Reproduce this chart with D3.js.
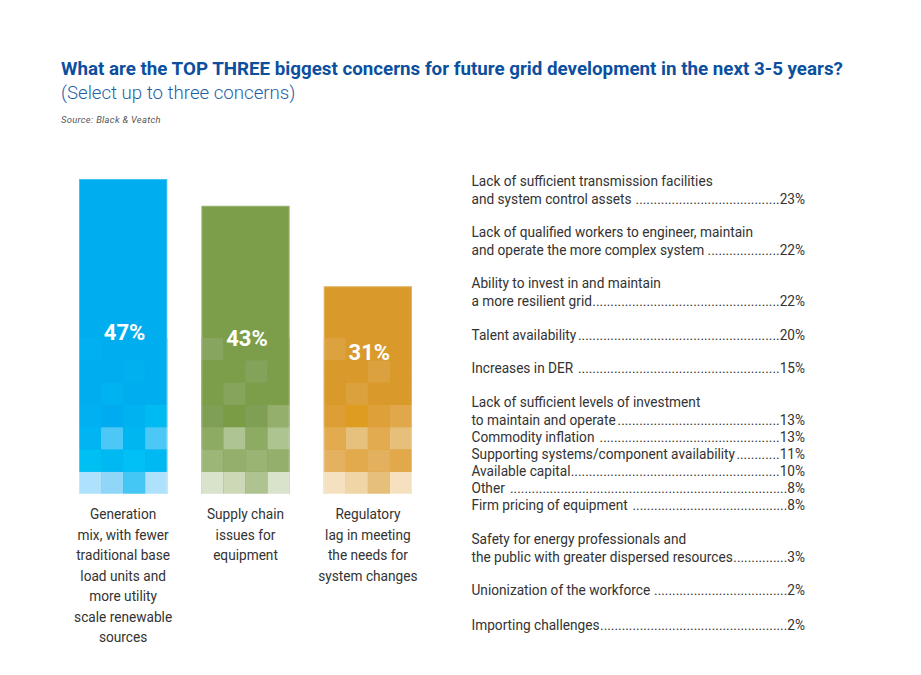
<!DOCTYPE html>
<html>
<head>
<meta charset="utf-8">
<script src="https://d3js.org/d3.v7.min.js"></script>
<style>
  body { margin: 0; background: #fff; }
  svg { display: block; font-family: Roboto, sans-serif; }
</style>
</head>
<body>
<div id="chart"></div>
<script>
// top three bars
const barNames = ['Generation', 'Supply chain', 'Regulatory'];
const barValues = [47, 43, 31];
const barLabels = [
  ['Generation', 'mix, with fewer', 'traditional base', 'load units and', 'more utility', 'scale renewable', 'sources'],
  ['Supply chain', 'issues for', 'equipment'],
  ['Regulatory', 'lag in meeting', 'the needs for', 'system changes']
];
const barColors = ['#00aeef', '#7c9e4a', '#d99a2b'];

// the faded tiles at the foot of each bar, bottom row first
const blueTiles = [
  ['#aee1fb', '#8fd6f8', '#45c7f6', '#aee1fb'],
  ['#00c0f3', '#00b8f2', '#00c0f5', '#00b9f3'],
  ['#00b5f1', '#4cc7f6', '#00b6f1', '#4cc8f6'],
  ['#00b0f0', '#00abef', '#00b2f0', '#00baf2'],
  ['#00adee', '#00b2f0', '#00aeef', '#00aeef'],
  ['#00aeef', '#00aeef', '#00b0ef', '#00aeef'],
  ['#00b0f0', '#00aeef', '#00aeef', '#00aeef']
];
const greenTiles = [
  ['#d9e2ca', '#ccd8b6', '#aec38f', '#d9e2ca'],
  ['#9cb677', '#93af6b', '#9ab474', '#93af6b'],
  ['#8dab62', '#aec493', '#8dab62', '#adc390'],
  ['#7f9f54', '#799c45', '#7f9f54', '#93af6b'],
  ['#7c9e4a', '#86a55b', '#7c9e4a', '#7c9e4a'],
  ['#7c9e4a', '#7c9e4a', '#83a25a', '#7c9e4a'],
  ['#87a55e', '#7c9e4a', '#7c9e4a', '#7c9e4a']
];
const orangeTiles = [
  ['#f5e1c0', '#f0d5a7', '#e6bf7a', '#f5e1c0'],
  ['#e4b160', '#e3aa4d', '#e3b05e', '#e2a94b'],
  ['#e3ab50', '#e6c07d', '#e3ab50', '#e6bf7a'],
  ['#dc9e35', '#de9c20', '#dea13a', '#e0a84a'],
  ['#d99a2b', '#dba13d', '#d99a2b', '#d99a2b'],
  ['#d99a2b', '#d99a2b', '#dba13f', '#d99a2b'],
  ['#dba23f', '#d99a2b', '#d99a2b', '#d99a2b']
];
const barTiles = [blueTiles, greenTiles, orangeTiles];

// the dotted list on the right
const listLabels = [
  ['Lack of sufficient transmission facilities', 'and system control assets '],
  ['Lack of qualified workers to engineer, maintain', 'and operate the more complex system '],
  ['Ability to invest in and maintain', 'a more resilient grid'],
  ['Talent availability'],
  ['Increases in DER '],
  ['Lack of sufficient levels of investment', 'to maintain and operate '],
  ['Commodity inflation '],
  ['Supporting systems/component availability'],
  ['Available capital'],
  ['Other '],
  ['Firm pricing of equipment '],
  ['Safety for energy professionals and', 'the public with greater dispersed resources'],
  ['Unionization of the workforce '],
  ['Importing challenges']
];
const listValues = [23, 22, 22, 20, 15, 13, 13, 11, 10, 8, 8, 3, 2, 2];
// last-line baseline of each list entry
const listBaselines = [204, 255, 306, 340, 373, 425, 442, 459, 476, 493, 510, 562, 595, 630];

const width = 921, height = 675;
const svg = d3.select('#chart').append('svg')
  .attr('width', width).attr('height', height);

// heading
svg.append('text').attr('x', 61).attr('y', 75)
  .attr('font-size', 18.75).attr('font-weight', 700).attr('fill', '#0b4f9e')
  .text('What are the TOP THREE biggest concerns for future grid development in the next 3-5 years?');
svg.append('text').attr('x', 61).attr('y', 99)
  .attr('font-size', 18.65).attr('font-weight', 300).attr('fill', '#1f5fa8')
  .text('(Select up to three concerns)');
svg.append('text').attr('x', 61).attr('y', 123)
  .attr('font-size', 9.4).attr('font-style', 'italic').attr('fill', '#555')
  .attr('letter-spacing', 0.3)
  .text('Source: Black & Veatch');

// bars
const x = d3.scaleBand().domain(barNames).range([79, 412]).paddingInner(0.279);
const y = d3.scaleLinear().domain([0, 47]).range([494, 179]);
const rows = d3.scaleBand().domain(d3.range(7)).range([494, 338]);
const cols = d3.scaleBand().domain(d3.range(4)).range([0, x.bandwidth()]);

const bars = svg.selectAll('g.bar').data(barNames).join('g')
  .attr('class', 'bar')
  .attr('transform', d => `translate(${x(d)},0)`);

bars.append('rect')
  .attr('width', x.bandwidth())
  .attr('y', (d, i) => y(barValues[i]))
  .attr('height', (d, i) => y(0) - y(barValues[i]))
  .attr('fill', (d, i) => barColors[i]);

bars.each(function (d, i) {
  const g = d3.select(this);
  barTiles[i].forEach((row, r) => {
    g.selectAll(null).data(row).join('rect')
      .attr('x', (c, k) => cols(k))
      .attr('y', rows(r))
      .attr('width', cols.bandwidth())
      .attr('height', rows.bandwidth())
      .attr('fill', c => c);
  });
});

// soft pale rim around each bar
bars.append('rect')
  .attr('x', 0.5)
  .attr('width', x.bandwidth() - 1)
  .attr('y', (d, i) => y(barValues[i]) + 0.5)
  .attr('height', (d, i) => y(0) - y(barValues[i]) - 1)
  .attr('fill', 'none')
  .attr('stroke', '#fff').attr('stroke-opacity', 0.25);

// value inside the bar, centred a little above the tiles
const valueY = [339.5, 346, 359.5];
bars.append('text')
  .attr('x', x.bandwidth() / 2 + 1.5)
  .attr('y', (d, i) => valueY[i])
  .attr('text-anchor', 'middle')
  .attr('font-size', 22).attr('font-weight', 700).attr('fill', '#fff')
  .text((d, i) => barValues[i] + '%');

// wrapped labels under the bars; no condensed Roboto here, so squeeze it
const condensed = 0.9;
bars.each(function (d, i) {
  const g = d3.select(this);
  g.selectAll(null).data(barLabels[i]).join('text')
    .attr('transform', (t, k) =>
      `translate(${x.bandwidth() / 2},${519 + k * 20.5}) scale(${condensed},1)`)
    .attr('text-anchor', 'middle')
    .attr('font-size', 15.2).attr('fill', '#333')
    .text(t => t);
});

// list: label, then dots running up to the percentage
const listRight = 805;
const listLeft = 471.5;
const lineGap = 17.6;
const listSize = 15.2;
const list = svg.append('g');

listLabels.forEach((lines, i) => {
  const base = listBaselines[i];
  lines.forEach((line, k) => {
    const yPos = base - (lines.length - 1 - k) * lineGap;
    const t = list.append('text')
      .attr('transform', `translate(${listLeft},${yPos}) scale(${condensed},1)`)
      .attr('font-size', listSize).attr('fill', '#333')
      .style('white-space', 'pre')
      .text(line);
    if (k === lines.length - 1) {
      const pct = list.append('text')
        .attr('transform', `translate(${listRight},${yPos}) scale(${condensed},1)`)
        .attr('text-anchor', 'end')
        .attr('font-size', listSize).attr('fill', '#333')
        .text(listValues[i] + '%');
      const pctW = pct.node().getComputedTextLength() * condensed;
      const leader = list.append('text')
        .attr('transform', `translate(${listRight - pctW},${yPos}) scale(${condensed},1)`)
        .attr('text-anchor', 'end')
        .attr('font-size', listSize).attr('fill', '#333')
        .text('.');
      const dotW = leader.node().getComputedTextLength();
      const room = (listRight - pctW - listLeft) / condensed - t.node().getComputedTextLength();
      leader.text('.'.repeat(Math.round(room / dotW)));
    }
  });
});
</script>
</body>
</html>
